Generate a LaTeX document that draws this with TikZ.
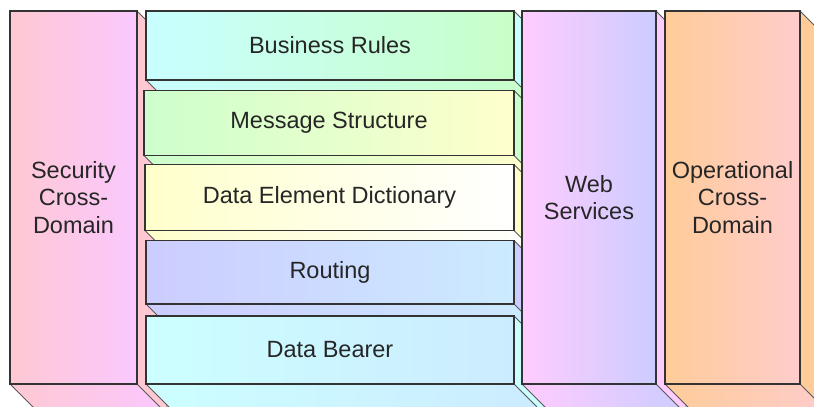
\documentclass[tikz,border=0pt]{standalone}
\usepackage{fontspec}
\setmainfont{Liberation Sans}
\usetikzlibrary{calc}

% front colours of the blocks (left / right end of the shading)
\definecolor{secL}{RGB}{255,200,210}
\definecolor{secR}{RGB}{250,200,255}
\definecolor{bizL}{RGB}{200,255,255}
\definecolor{bizR}{RGB}{200,255,200}
\definecolor{msgL}{RGB}{204,255,204}
\definecolor{msgR}{RGB}{255,255,204}
\definecolor{dictL}{RGB}{255,255,204}
\definecolor{dictR}{RGB}{255,255,255}
\definecolor{routL}{RGB}{204,204,255}
\definecolor{routR}{RGB}{204,235,255}
\definecolor{bearL}{RGB}{204,255,255}
\definecolor{bearR}{RGB}{204,235,255}
\definecolor{webL}{RGB}{255,204,255}
\definecolor{webR}{RGB}{204,204,255}
\definecolor{opsL}{RGB}{255,204,153}
\definecolor{opsR}{RGB}{255,204,204}

% depth of the extruded faces
\newcommand{\dd}{30}
% side and bottom faces of block #1, then its front outline
\newcommand{\depthbox}[3]{%
  \fill[#2] (#1.north east) -- ++(\dd,\dd) -- ($(#1.south east)+(\dd,\dd)$) -- (#1.south east) -- cycle;
  \shade[left color=#2, right color=#3] (#1.south west) -- ++(\dd,\dd) -- ($(#1.south east)+(\dd,\dd)$) -- (#1.south east) -- cycle;
  \draw[rim] (#1.south west) -- ++(\dd,\dd) -- ($(#1.south east)+(\dd,\dd)$) -- ($(#1.north east)+(\dd,\dd)$) -- (#1.north east)
    (#1.south east) -- ++(\dd,\dd);
  \draw[front] (#1.south west) rectangle (#1.north east);
}

\begin{document}
\begin{tikzpicture}[
  x=1pt, y=-1pt,
  layer/.style={anchor=north west, inner sep=0pt, outer sep=0pt,
    align=center, text=black!85, font=\fontsize{23.5}{27.5}\selectfont},
  front/.style={black!80, line width=1.1pt},
  rim/.style={black!65, line width=0.8pt}
]
\useasboundingbox (0,0) rectangle (814,407);
\clip (0,0) rectangle (814,407);

\node[layer, minimum width=127pt, minimum height=373pt, left color=secL, right color=secR] (sec) at (10,11) {Security\\Cross-\\Domain};
\depthbox{sec}{secL}{secR}

% middle stack, top to bottom
\node[layer, minimum width=368pt, minimum height=69pt, left color=bizL, right color=bizR] (biz) at (146,11) {Business Rules};
\depthbox{biz}{bizL}{bizR}
\node[layer, minimum width=370pt, minimum height=65pt, left color=msgL, right color=msgR] (msg) at (144,90.5) {Message Structure};
\depthbox{msg}{msgL}{msgR}
\node[layer, minimum width=369pt, minimum height=66pt, left color=dictL, right color=dictR] (dict) at (145,164.5) {Data Element Dictionary};
\depthbox{dict}{dictL}{dictR}
\node[layer, minimum width=368pt, minimum height=63.5pt, left color=routL, right color=routR] (rout) at (146,240.5) {Routing};
\depthbox{rout}{routL}{routR}
\node[layer, minimum width=368pt, minimum height=68pt, left color=bearL, right color=bearR] (bear) at (146,316) {Data Bearer};
\depthbox{bear}{bearL}{bearR}

\node[layer, minimum width=134pt, minimum height=373pt, left color=webL, right color=webR] (web) at (522,11) {Web\\Services};
\depthbox{web}{webL}{webR}
\node[layer, minimum width=135pt, minimum height=373pt, left color=opsL, right color=opsR] (ops) at (665,11) {Operational\\Cross-\\Domain};
\depthbox{ops}{opsL}{opsR}
\end{tikzpicture}
\end{document}
